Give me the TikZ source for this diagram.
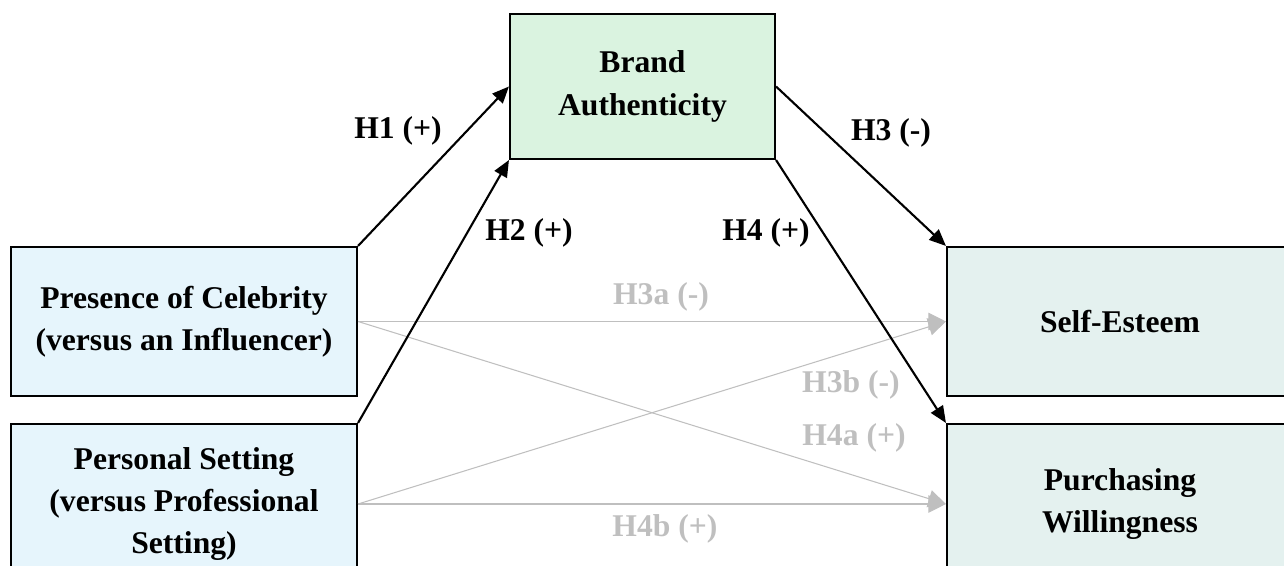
\documentclass[tikz,border=0pt]{standalone}
\usepackage{fontspec}
\setmainfont{Liberation Serif}
\usetikzlibrary{arrows.meta}

\definecolor{ivblue}{RGB}{230,245,252}
\definecolor{medgreen}{RGB}{218,243,224}
\definecolor{dvgreen}{RGB}{228,241,239}
\definecolor{weakgray}{RGB}{191,191,191}

\tikzset{
    construct/.style={draw=black, line width=1.2pt, align=center,
        font=\fontsize{18}{24}\selectfont\bfseries, inner sep=0pt},
    hyp/.style={line width=1.2pt, -{Triangle[length=9.5pt,width=8pt]}},
    weakhyp/.style={draw=weakgray, line width=0.6pt,
        -{Triangle[length=10pt,width=10pt]}},
    hyplabel/.style={font=\fontsize{18}{24}\selectfont\bfseries, inner sep=0pt},
}

\begin{document}
\begin{tikzpicture}
    \useasboundingbox (0,0) rectangle (25.68,11.32);
    \clip (0,0) rectangle (25.68,11.32);

    % constructs
    \node[construct, fill=ivblue, minimum width=6.92cm, minimum height=2.98cm]
        (cel) at (3.68,4.89) {Presence of Celebrity\\(versus an Influencer)};
    \node[construct, fill=ivblue, minimum width=6.92cm, minimum height=3.2cm]
        (pers) at (3.68,1.24) {Personal Setting\\(versus Professional\\Setting)};
    \node[construct, fill=medgreen, minimum width=5.3cm, minimum height=2.9cm]
        (brand) at (12.85,9.59) {Brand\\Authenticity};
    \node[construct, fill=dvgreen, minimum width=6.92cm, minimum height=2.98cm]
        (self) at (22.4,4.89) {Self-Esteem};
    \node[construct, fill=dvgreen, minimum width=6.92cm, minimum height=3.2cm]
        (purch) at (22.4,1.24) {Purchasing\\Willingness};

    % direct effects (grey)
    \draw[weakhyp] (cel.east) -- (self.west);
    \draw[weakhyp] (cel.east) -- (purch.west);
    \draw[weakhyp] (pers.east) -- (self.west);
    \draw[weakhyp] (pers.east) -- (purch.west);

    % mediated paths
    \draw[hyp] (cel.north east) -- (brand.west);
    \draw[hyp] (pers.north east) -- (brand.south west);
    \draw[hyp] (brand.east) -- (self.north west);
    \draw[hyp] (brand.south east) -- (purch.north west);

    % hypothesis labels
    \node[hyplabel] (lh1) at (7.96,8.70) {H1 (+)};
    \node[hyplabel] (lh2) at (10.58,6.66) {H2 (+)};
    \node[hyplabel] (lh3) at (17.82,8.66) {H3 (-)};
    \node[hyplabel] (lh4) at (15.32,6.66) {H4 (+)};
    \node[hyplabel, text=weakgray] (lh3a) at (13.22,5.38) {H3a (-)};
    \node[hyplabel, text=weakgray] (lh3b) at (17.02,3.62) {H3b (-)};
    \node[hyplabel, text=weakgray] (lh4a) at (17.08,2.56) {H4a (+)};
    \node[hyplabel, text=weakgray] (lh4b) at (13.30,0.74) {H4b (+)};
\end{tikzpicture}
\end{document}
